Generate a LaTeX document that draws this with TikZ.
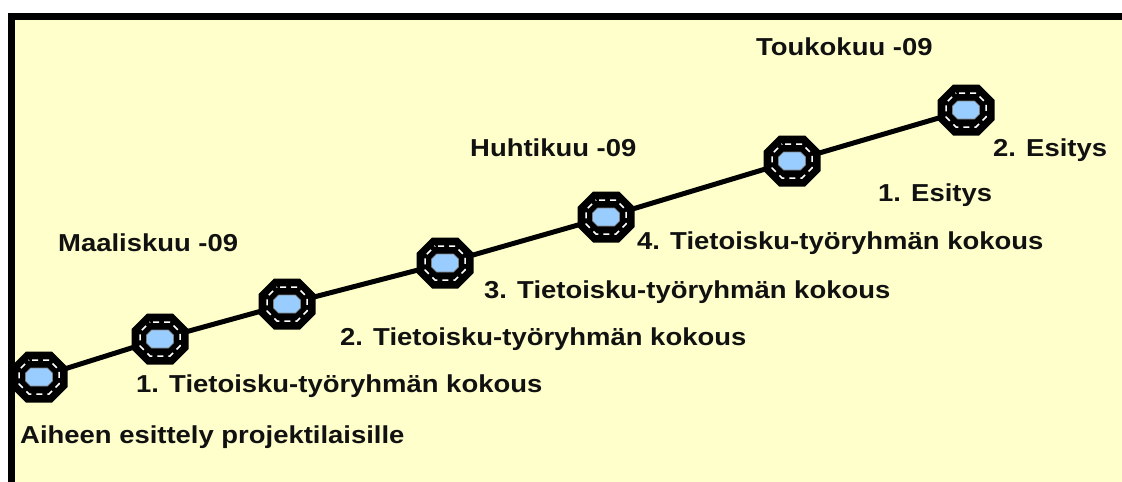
\documentclass[tikz,border=0pt]{standalone}
\usepackage{fontspec}
\setmainfont{Liberation Sans}
\definecolor{bgyellow}{HTML}{FFFFCC}
\definecolor{coreblue}{HTML}{99CCFF}
\definecolor{ink}{HTML}{111111}
\newcommand\sx[1]{\scalebox{1.12}[1]{#1}}
% octagon path: half width, half height, chamfer
\newcommand\octa[3]{(-#1+#3,-#2) -- (#1-#3,-#2) -- (#1,-#2+#3) -- (#1,#2-#3) -- (#1-#3,#2) -- (-#1+#3,#2) -- (-#1,#2-#3) -- (-#1,-#2+#3) -- cycle}
\tikzset{
  link/.style={draw=black, line width=5pt},
  lbl/.style={anchor=base west, inner sep=0pt, text=ink, font=\fontsize{24.5}{28}\selectfont\bfseries},
  marker/.pic={
    \fill[black] \octa{28.5}{25.5}{15.5};
    \draw[white, line width=1.5pt, dash pattern=on 6pt off 5pt, dash phase=-3pt] \octa{20}{17}{10};
    \filldraw[fill=coreblue, draw=gray, line width=0.6pt] \octa{13.5}{9}{5};
  },
}
\begin{document}
\begin{tikzpicture}[x=1pt,y=-1pt]
\useasboundingbox (0,0) rectangle (1122,482);
\fill[white] (0,0) rectangle (1122,482);
\fill[bgyellow] (8,13) rectangle (1122,482);
\draw[line width=7pt, black] (8,16.5) -- (1122,16.5);
\draw[line width=7pt, black] (11.5,13) -- (11.5,482);
% marker positions
\coordinate (m0) at (39,377);
\coordinate (m1) at (160,339);
\coordinate (m2) at (287,304);
\coordinate (m3) at (445,263);
\coordinate (m4) at (606,217);
\coordinate (m5) at (792,161);
\coordinate (m6) at (966,110);
\draw[link] (m0) -- (m1);
\draw[link] (m1) -- (m2);
\draw[link] (m2) -- (m3);
\draw[link] (m3) -- (m4);
\draw[link] (m4) -- (m5);
\draw[link] (m5) -- (m6);
\foreach \i in {0,...,6} { \pic at (m\i) {marker}; }
% labels
\node[lbl] (t1) at (756,55) {\sx{Toukokuu -09}};
\node[lbl] (t2) at (993,156) {\sx{2. Esitys}};
\node[lbl] (t3) at (470,156) {\sx{Huhtikuu -09}};
\node[lbl] (t4) at (878,201) {\sx{1. Esitys}};
\node[lbl] (t5) at (637,249) {\sx{4. Tietoisku-työryhmän kokous}};
\node[lbl] (t6) at (58,251) {\sx{Maaliskuu -09}};
\node[lbl] (t7) at (484,298) {\sx{3. Tietoisku-työryhmän kokous}};
\node[lbl] (t8) at (340,345) {\sx{2. Tietoisku-työryhmän kokous}};
\node[lbl] (t9) at (136,392) {\sx{1. Tietoisku-työryhmän kokous}};
\node[lbl] (t10) at (20,443) {\sx{Aiheen esittely projektilaisille}};
\end{tikzpicture}
\end{document}
